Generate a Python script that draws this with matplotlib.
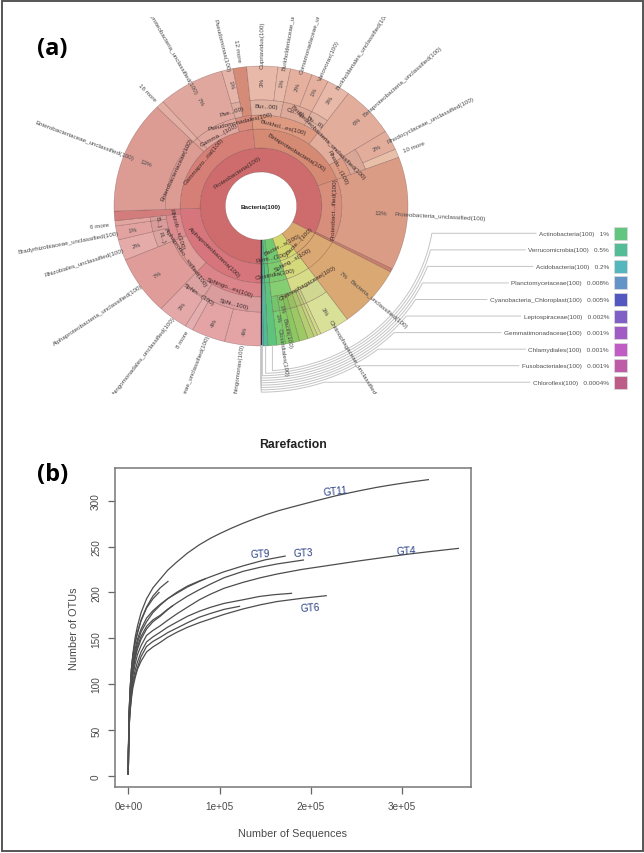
# Krona chart of the bacterial community (a) and rarefaction curves (b)

import numpy as np
import matplotlib
matplotlib.use("Agg")
import matplotlib.pyplot as plt
from matplotlib.patches import Wedge, Rectangle
from matplotlib.transforms import Bbox

plt.rcParams['font.family'] = ['Liberation Sans', 'DejaVu Sans']

# ---- krona data, clockwise from the bottom of the circle ----
leaf_names = ['Sphingomonas(100)', 'Sphingomonadaceae_unclassified(100)', '8 more',
              'Sphingomonadales_unclassified(100)', 'Alphaproteobacteria_unclassified(100)',
              'Rhizobiales_unclassified(100)', 'Bradyrhizobiaceae_unclassified(100)', '6 more', '',
              'Enterobacteriaceae_unclassified(100)', '16 more',
              'Gammaproteobacteria_unclassified(100)', 'Pseudomonas(100)', '12 more',
              'Cupriavidus(100)', 'Burkholderiaceae_unclassified(100)',
              'Comamonadaceae_unclassified(100)', 'Variovorax(100)',
              'Burkholderiales_unclassified(100)', 'Betaproteobacteria_unclassified(100)',
              'Rhodocyclaceae_unclassified(100)', '10 more', 'Proteobacteria_unclassified(100)', '',
              'Bacteria_unclassified(100)', 'Chitinophagaceae_unclassified(100)', '', '', '',
              '', '', 'Bacilli(100)', 'Clostridiales(100)', '', '', '', '']
leaf_pct = [4.0, 3.7, 0.9, 3.3, 6.8, 2.4, 1.6, 0.6, 1.1, 13.05, 0.9, 7.3, 1.25, 1.5,
            3.4, 1.4, 2.4, 1.9, 2.6, 5.9, 2.3, 1.0, 13.05, 0.4,
            7.2, 3.3, 0.4, 0.4, 0.7, 0.95, 0.7, 0.85, 0.95, 0.97, 0.5, 0.2, 0.05]
leaf_pct_text = ['4%', '4%', '', '3%', '7%', '2%', '1%', '', '', '13%', '', '7%', '1%', '',
                 '3%', '1%', '2%', '1%', '3%', '6%', '2%', '', '13%', '',
                 '7%', '3%', '', '', '', '', '', '1%', '1%', '', '', '', '']

# parents are given as the number of leaves they hold
phylum_counts = [24, 1, 4, 4, 1, 1, 1, 1]
class_counts = [9, 5, 8, 1, 1, 1, 4, 4, 1, 1, 1, 1]
order_counts = [4, 1, 3, 1, 1, 1, 1, 2, 5, 1, 2, 1, 1, 1, 4, 4, 1, 1, 1, 1]
family_counts = [3, 1, 1, 1, 1, 1, 1, 1, 1, 1, 1, 1, 2, 2, 1, 1, 2, 1, 1, 1, 1,
                 1, 1, 1, 1, 1, 1, 1, 1, 1, 1, 1]

# colours
phylum_colors = ['#CE6B6C', '#D9A86F', '#D2D86F', '#72C96F', '#5CC47C', '#4FBC94', '#55B7BE', '#2F3F8F']
class_colors = ['#D6757B', '#D67F76', '#D58A73', '#D78F7C', '#C97F6E', '#DAA873', '#D4DA7C', '#7CCB6F',
                '#5CC47C', '#4FBC94', '#55B7BE', '#2F3F8F']
order_colors = ['#DB8489', '#DF9C98', '#DC8C8E', '#D27C7C', '#DC9C94', '#E0A498', '#E0A79E', '#D88C7C',
                '#DE9A80', '#E3AD9C', '#DD9C84', '#DB9C86', '#C97F6E', '#DAA873', '#D6DC88', '#86CE72',
                '#5CC47C', '#4FBC94', '#55B7BE', '#2F3F8F']
leaf_colors = ['#E4A3A5', '#E4A3A5', '#E5AEAE', '#E5A8A8', '#DF9C98', '#E5ABA8', '#E2A2A0', '#E2A5A0', '#D27C7C',
               '#DC9C94', '#E3AFA4', '#E0A79E', '#E6B4A8', '#D48C78',
               '#E8B8A8', '#E8B8A8', '#E6B09E', '#E6B09E', '#E8B8A8', '#E3AD9C', '#E3AD9C', '#E8BFA8',
               '#DB9C86', '#C97F6E', '#DAA873', '#D9E097', '#CFD98A', '#C4D47E', '#B4CE72',
               '#9CC866', '#8CC860', '#84CC66', '#78CE70', '#5CC47C', '#4FBC94', '#55B7BE', '#2F3F8F']

# index into ring_radii where each leaf starts (4 = outer ring only)
leaf_first_ring = [4, 4, 4, 4, 3, 4, 4, 4, 2, 3, 3, 3, 4, 2, 4, 4, 4, 4, 4, 3, 4, 4, 2, 1,
                   1, 4, 4, 4, 4, 4, 4, 4, 4, 1, 1, 1, 1]
ring_radii = [34, 58, 77, 91, 106, 140]

# inner node labels: text, clock angle, radius
node_labels = ['Proteobacteria(100)', 'Alphaproteobacteria(100)', 'Gammapro...rial(100)',
               'Betaproteobacteria(100)', 'Proteobact...ified(100)', 'Sphingo...es(100)', 'Sphi...100)',
               'Sphin...(100)', 'Alphaproteo...ssified(100)', 'Rhizob...s(100)', 'B...)', 'R...)',
               'Enterobacteriaceae(100)', 'Gamma...(100)', 'Pseudomonadales(100)', 'Pse...00)', 'Bur...00)',
               'Burkhol...es(100)', 'Co...0)', 'Bu...0)', 'Betaproteobacteria_unclassified(100)',
               'Rhodo...(100)', 'Bacter...s(100)', 'Firmi...(100)', 'Bacte...(100)', 'Sphing...s(100)',
               'Clostridia(100)', 'Chitinophagaceae(100)']
node_angles = [327, 224, 310, 32, 92, 200, 195, 214, 235, 254, 261, 252, 295, 331, 347, 344, 3, 15, 19, 31,
               45, 62, 152, 168, 134, 150, 169, 150]
node_radii = [41, 64, 71, 64, 70, 86, 101, 106, 88, 83, 99, 99, 88, 82, 87, 99, 100, 82, 100, 99, 90, 83,
              43, 52, 50, 61, 69, 89]

# legend of the smallest groups
legend_names = ['Actinobacteria(100)', 'Verrucomicrobia(100)', 'Acidobacteria(100)', 'Planctomycetaceae(100)',
                'Cyanobacteria_Chloroplast(100)', 'Leptospiraceae(100)', 'Gemmatimonadaceae(100)',
                'Chlamydiales(100)', 'Fusobacteriales(100)', 'Chloroflexi(100)']
legend_pct = ['1%', '0.5%', '0.2%', '0.008%', '0.005%', '0.002%', '0.001%', '0.001%', '0.001%', '0.0004%']
legend_colors = ['#62C67E', '#52BD97', '#55B7BE', '#6394C8', '#5358C0', '#8060C4', '#A05CC4', '#C05CC4',
                 '#BE5CA8', '#BE5C88']
legend_leaf = [33, 34, 35, 36, 36, 36, 36, 36, 36, 36]

# ---- rarefaction data, x in sequences ----
tick_x = [0, 100000, 200000, 300000]
tick_y = [0, 50, 100, 150, 200, 250, 300]

low_x = [0, 200, 500, 1000, 2000, 3500, 5000, 7500, 10000, 14000, 20000, 27000, 35000, 43000]
gt11_x = low_x + [53000, 65000, 78000, 90000, 100000, 113000, 126000, 139000, 151600, 166000, 181000,
                  204000, 228000, 254000, 272000, 290000, 310000, 329000]
gt11_y = [2, 30, 52, 72, 95, 118, 133, 151, 163, 178, 193, 205, 214.5, 224,
          233, 243, 252, 259, 264, 270, 275.5, 280.5, 285, 289.5, 293.5, 299.5, 305.5, 311, 314.5, 317.5, 320.5, 323]
gt9_x = low_x + [53000, 65000, 78000, 90000, 105000, 126000, 150000, 172000]
gt9_y = [2, 28, 49, 68, 90, 110, 123, 138, 149, 160, 172, 180, 187, 193,
         200, 207, 212.5, 217, 222.5, 229, 235.5, 239.6]
gt3_x = low_x + [53000, 65000, 78000, 90000, 105000, 126000, 145000, 163000, 192000]
gt3_y = [2, 27, 46, 64, 84, 104, 116, 130, 141, 152, 163, 170, 175, 181.5,
         188.4, 196, 203, 209, 216, 223, 227.5, 231, 235.3]
gt4_x = low_x + [53000, 65000, 78000, 90000, 105000, 126000, 145000, 163000, 190000, 217000, 254000,
                 305000, 335000, 362000]
gt4_y = [2, 26, 44, 61, 79, 97, 109, 122, 132, 142, 153, 158.5, 163.6, 169.5,
         176.4, 184, 192, 198, 204.5, 211, 216, 220, 225, 229, 234.5, 241.5, 245, 248]
gt_c_x = low_x + [53000, 65000, 78000, 90000, 105000, 126000, 144000, 160000, 179000]
gt_c_y = [2, 25, 42, 58, 75, 92, 103, 115, 124, 135, 146, 151.5, 156.6, 162,
          167.5, 174, 179.5, 183.7, 188, 192, 195.6, 197.5, 199]
gt_d_x = low_x + [53000, 65000, 78000, 90000, 105000, 122000]
gt_d_y = [2, 24, 41, 56, 72, 88, 99, 110, 118, 130, 141, 146.5, 151, 156,
          161, 167, 173, 177, 181.5, 184.8]
gt6_x = low_x + [53000, 65000, 78000, 90000, 105000, 126000, 145000, 163000, 190000, 217000]
gt6_y = [2, 24, 40, 54, 70, 85, 96, 107, 116, 125, 135, 140.5, 145.5, 151,
         156.4, 162, 167, 171, 176, 182, 186.5, 190, 193.5, 196.4]
short_a_x = low_x[:-1] + [43500]
short_a_y = [2, 30, 52, 72, 95, 117, 131, 146, 157, 170, 184, 196, 205, 212]
short_b_x = low_x[:-2] + [33700]
short_b_y = [2, 29, 51, 71, 94, 116, 130, 145, 155, 169, 183, 193, 200]
short_c_x = low_x + [48700]
short_c_y = [2, 27, 45, 63, 82, 101, 114, 128, 138, 149, 160, 168, 174, 181, 185.5]
short_d_x = low_x + [53000, 65000, 78000, 84000]
short_d_y = [2, 28, 48, 66, 87, 106, 120, 134, 145, 157, 168, 178, 186, 193, 199, 206, 212, 214.6]
curves_x = [gt11_x, gt9_x, gt3_x, gt4_x, gt_c_x, gt_d_x, gt6_x, short_a_x, short_b_x, short_c_x, short_d_x]
curves_y = [gt11_y, gt9_y, gt3_y, gt4_y, gt_c_y, gt_d_y, gt6_y, short_a_y, short_b_y, short_c_y, short_d_y]

gt_labels = ['GT11', 'GT9', 'GT3', 'GT4', 'GT6']
gt_label_x = [227000, 145000, 192000, 305000, 199000]
gt_label_y = [311, 242, 243, 246, 184]
gt_label_rot = [6, 3, 3, 3, 4]

W, H = 644, 854
CX, CY, SX = 261, 207, 1.05
GRAY = '#4a4a4a'

fig = plt.figure(figsize=(W / 100, H / 100), dpi=100, facecolor='white')

# full figure axes, one unit = one pixel upright, circle stretched a little sideways
ax = fig.add_axes([0, 0, 1, 1])
ax.set_xlim(-CX / SX, (W - CX) / SX)
ax.set_ylim(CY - H, CY)
ax.axis('off')

def clock_xy(angle, r):
    a = np.radians(angle)
    return r * np.sin(a), r * np.cos(a)

def tangent_rot(angle):
    angle = angle % 360
    if 90 <= angle < 270:
        return 180 - angle
    return -angle if angle < 90 else 360 - angle

leaf_deg = np.array(leaf_pct) / sum(leaf_pct) * 360
edges = 180 + np.concatenate([[0], np.cumsum(leaf_deg)])

def draw_wedge(a0, a1, r0, r1, color):
    ax.add_patch(Wedge((0, 0), r1, 90 - a1, 90 - a0, width=r1 - r0, facecolor=color,
                       edgecolor=(0.35, 0.2, 0.2, 0.4), linewidth=0.4))

def draw_ring(counts, colors, ring):
    pos = 0
    for n, c in zip(counts, colors):
        draw_wedge(edges[pos], edges[pos + n], ring_radii[ring], ring_radii[ring + 1], c)
        pos += n

# outer leaves first, they can start further in
for i in range(len(leaf_pct)):
    draw_wedge(edges[i], edges[i + 1], ring_radii[leaf_first_ring[i]], ring_radii[-1], leaf_colors[i])

draw_ring(phylum_counts, phylum_colors, 0)
draw_ring(class_counts, class_colors, 1)

# parent rings: only the slices not already covered by a long leaf
order_pos = 0
for n, c in zip(order_counts, order_colors):
    if leaf_first_ring[order_pos] >= 3:
        draw_wedge(edges[order_pos], edges[order_pos + n], ring_radii[2], ring_radii[3], c)
    order_pos += n

fam_pos = 0
for n in family_counts:
    if leaf_first_ring[fam_pos] >= 4:
        col = matplotlib.colors.to_rgb(leaf_colors[fam_pos])
        col = tuple(0.96 * v for v in col)
        draw_wedge(edges[fam_pos], edges[fam_pos + n], ring_radii[3], ring_radii[4], col)
    fam_pos += n

ax.plot([0, 0], [-34, -140], color='#2a2a3a', lw=0.8)

# leaf labels, clipped like the original svg
clip = Bbox([[0, H - 395], [W, H - 18]])
name_start = {9: 130, 11: 128, 22: 127, 24: 113, 25: 131, 31: 114, 32: 123, 19: 134, 20: 136, 2: 143}
pct_radius = {9: 118, 22: 114, 24: 104, 25: 121, 31: 104, 32: 112, 11: 120, 4: 120}
for i, name in enumerate(leaf_names):
    a = ((edges[i] + edges[i + 1]) / 2) % 360
    left = a > 180
    dx, dy = np.sin(np.radians(a)) * SX, np.cos(np.radians(a))
    rot = np.degrees(np.arctan2(dy, dx))
    if left:
        rot += 180
    ha = 'right' if left else 'left'
    if name:
        px, py = clock_xy(a, name_start.get(i, 138 if 'more' not in name else 146))
        t = ax.text(px, py, name, fontsize=4.5, color='#4a4a4a', rotation=rot, rotation_mode='anchor',
                    ha=ha, va='center')
        t.set_clip_box(clip)
        t.set_clip_on(True)
    if leaf_pct_text[i]:
        px, py = clock_xy(a, pct_radius.get(i, 125))
        ax.text(px, py, leaf_pct_text[i], fontsize=4.5, color='#4a4a4a', rotation=rot, rotation_mode='anchor',
                ha='center', va='center')

for s, a, r in zip(node_labels, node_angles, node_radii):
    px, py = clock_xy(a, r)
    ax.text(px, py, s, fontsize=4.5, color='#3a2a2a', rotation=tangent_rot(a), rotation_mode='anchor',
            ha='center', va='center')
ax.text(0, 0, 'Bacteria(100)', fontsize=4.6, fontweight='bold', color='#222222', ha='center', va='center')

# legend rows with their connector arcs
renderer = fig.canvas.get_renderer()
for i, (name, pct, col, leaf) in enumerate(zip(legend_names, legend_pct, legend_colors, legend_leaf)):
    row_y = 234.3 + 16.55 * i
    y = CY - row_y
    t = ax.text((609 - CX) / SX, y, name + '   ' + pct, fontsize=4.6, color='#505050', ha='right', va='center')
    left_px = t.get_window_extent(renderer).x0
    ax.add_patch(Rectangle(((613.5 - CX) / SX, y - 6.5), 13.5 / SX, 13, facecolor=col, edgecolor='#d8d8d8', lw=0.6))

    r = 165 + 2.35 * i
    mid = (edges[leaf] + edges[leaf + 1]) / 2
    vx = ring_radii[-1] * np.sin(np.radians(mid))
    a_start = np.pi - np.arcsin(vx / r)
    a_end = np.arccos(-(row_y - CY) / r)
    arc = np.linspace(a_start, a_end, 60)
    xs = np.concatenate([[vx], r * np.sin(arc), [(left_px - 3 - CX) / SX]])
    ys = np.concatenate([[-np.sqrt(ring_radii[-1] ** 2 - vx ** 2)], r * np.cos(arc), [y]])
    ax.plot(xs, ys, color='#c4c4c4', lw=0.7, solid_joinstyle='round')

# panel letters, titles and the frame
ax.text((37 - CX) / SX, CY - 49, '(a)', fontsize=17, fontweight='bold', family=['Open Sans', 'DejaVu Sans'],
        color='black', ha='left', va='center')
ax.text((37 - CX) / SX, CY - 475, '(b)', fontsize=17, fontweight='bold', family=['Open Sans', 'DejaVu Sans'],
        color='black', ha='left', va='center')
ax.text((293 - CX) / SX, CY - 444.5, 'Rarefaction', fontsize=8.8, fontweight='bold', color='#222222',
        ha='center', va='center')
ax.add_patch(Rectangle(((1.5 - CX) / SX, CY - 852), 641 / SX, 850.5, fill=False, edgecolor='#555555', lw=1.4))

# ---- rarefaction panel ----
left, right, top, bottom = 115, 471, 469, 788
ax2 = fig.add_axes([left / W, 1 - bottom / H, (right - left) / W, (bottom - top) / H])
ax2.patch.set_alpha(0)
for cx, cy in zip(curves_x, curves_y):
    ax2.plot(cx, cy, color='#4d4d4d', lw=0.9)
for s, lx, ly, r in zip(gt_labels, gt_label_x, gt_label_y, gt_label_rot):
    ax2.text(lx, ly, s, fontsize=7.3, color='#2B3F85', rotation=r, ha='center', va='center')

ax2.set_xlim(-14600, 375800)
ax2.set_ylim(-12.3, 335.7)
ax2.set_xticks(tick_x)
ax2.set_xticklabels(['0e+00', '1e+05', '2e+05', '3e+05'])
ax2.set_yticks(tick_y)
ax2.set_yticklabels([str(v) for v in tick_y], rotation=90, va='center')
ax2.tick_params(length=5, width=0.9, color='#666666', labelsize=7.2, labelcolor=GRAY, pad=5)
for s in ax2.spines.values():
    s.set_color('#777777')
    s.set_linewidth(1.1)
ax2.set_xlabel('Number of Sequences', fontsize=7.8, color=GRAY, labelpad=12)
ax2.set_ylabel('Number of OTUs', fontsize=7.8, color=GRAY, labelpad=9)

fig.savefig('out.png', dpi=100)
